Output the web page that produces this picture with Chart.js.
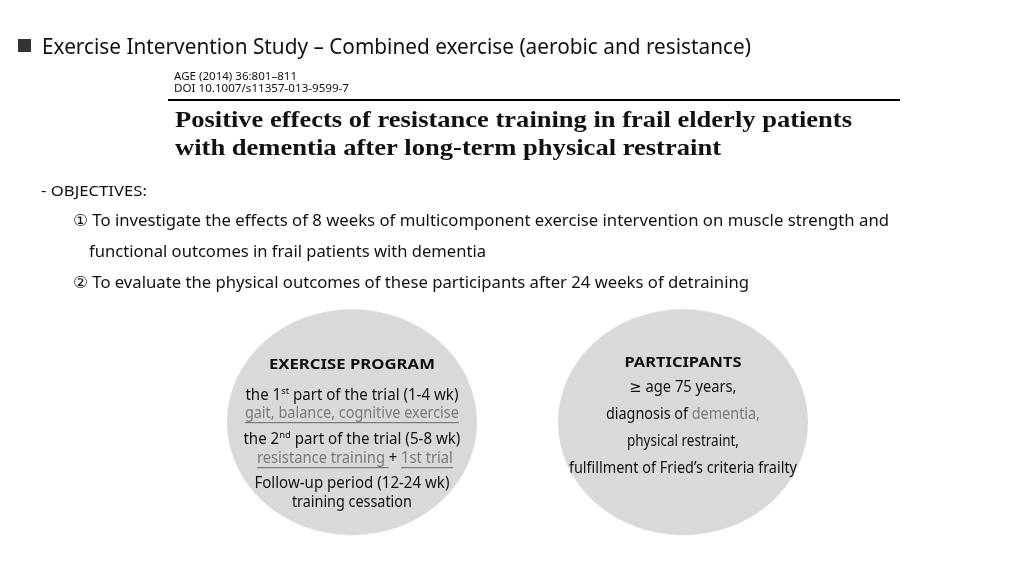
<!DOCTYPE html>
<html><head><meta charset="utf-8">
<script src="https://cdn.jsdelivr.net/npm/chart.js@4/dist/chart.umd.min.js"></script>
<style>html,body{margin:0;padding:0;background:#fff;}#wrap{width:1024px;height:576px;}</style>
</head><body><div id="wrap"><canvas id="c" width="1024" height="576"></canvas></div>
<script>
// ---- content ----
const slideTitle = 'Exercise Intervention Study – Combined exercise (aerobic and resistance)';
const citation = ['AGE (2014) 36:801–811', 'DOI 10.1007/s11357-013-9599-7'];
const paperTitle = ['Positive effects of resistance training in frail elderly patients', 'with dementia after long-term physical restraint'];
const objectivesHeader = '- OBJECTIVES:';
const objectives = [
  '① To investigate the effects of 8 weeks of multicomponent exercise intervention on muscle strength and',
  'functional outcomes in frail patients with dementia',
  '② To evaluate the physical outcomes of these participants after 24 weeks of detraining'
];
const circleLabels = ['EXERCISE PROGRAM', 'PARTICIPANTS'];
const circleX = [350, 685];
const circleY = [425, 425];
const programLines = [
  [['the 1', ''], ['st', 'sup'], [' part of the trial (1-4 wk)', '']],
  [['gait, balance, cognitive exercise', 'ul']],
  [['the 2', ''], ['nd', 'sup'], [' part of the trial (5-8 wk)', '']],
  [['resistance training ', 'ul'], ['+ ', ''], ['1st trial', 'ul']],
  [['Follow-up period (12-24 wk)', '']],
  [['training cessation', '']]
];
const participantLines = [
  [['≥ age 75 years,', '']],
  [['diagnosis of ', ''], ['dementia,', 'gray']],
  [['physical restraint,', '']],
  [['fulfillment of Fried’s criteria frailty', '']]
];

// ---- styles / layout ----
const SANS = "'Noto Sans', 'DejaVu Sans', sans-serif";
const SERIF = "'Liberation Serif', 'DejaVu Serif', serif";
const BLACK = '#111111';
const GRAY = '#7a7a7a';
const FILL = '#d9d9d9';
const ELL = { rx: 125, ry: 113 };
const layout = {
  title: { x: 42, base: 54, w: 709, size: 21 },
  cite: { x: 174, bases: [80, 92], ws: [123, 175], size: 11 },
  rule: { x1: 168, x2: 900, y: 100, lw: 2 },
  paper: { x: 175, bases: [127, 155], ws: [677, 546], size: 24 },
  objHead: { x: 41, base: 196, w: 106, size: 14.5 },
  obj: { xs: [73, 89, 73], bases: [226, 257, 288], ws: [816, 397, 676], size: 16.5 },
  program: { headBase: 369, headW: 166, bases: [400, 418, 444, 463, 488, 507], ws: [213, 214, 217, 196, 195, 120], size: 15.5 },
  part: { headBase: 367, headW: 117, bases: [392, 419, 446, 473], ws: [107, 154, 112, 228], size: 15.5 }
};

function ellipseImage() {
  const c = document.createElement('canvas');
  c.width = Math.round(ELL.rx * 2) + 2; c.height = Math.round(ELL.ry * 2) + 2;
  const g = c.getContext('2d');
  g.fillStyle = FILL;
  g.beginPath();
  g.ellipse(c.width / 2, c.height / 2, ELL.rx, ELL.ry, 0, 0, Math.PI * 2);
  g.fill();
  return c;
}

function drawSegs(ctx, segs, x, base, width, size, family, weight, align) {
  let total = 0; const out = [];
  for (const [t, k] of segs) {
    const fs = k === 'sup' ? size * 0.62 : size;
    ctx.font = `${weight} ${fs}px ${family}`;
    const w = ctx.measureText(t).width;
    out.push({ t, k, fs, w }); total += w;
  }
  const sx = width / total;
  const left = align === 'center' ? x - width / 2 : x;
  ctx.save();
  ctx.translate(left, base);
  ctx.scale(sx, 1);
  ctx.textBaseline = 'alphabetic';
  ctx.textAlign = 'left';
  let cx = 0;
  for (const s of out) {
    ctx.font = `${weight} ${s.fs}px ${family}`;
    ctx.fillStyle = (s.k === 'ul' || s.k === 'gray') ? GRAY : BLACK;
    const dy = s.k === 'sup' ? -size * 0.4 : 0;
    ctx.fillText(s.t, cx, dy);
    if (s.k === 'ul') ctx.fillRect(cx, 4, s.w, 1.2);
    cx += s.w;
  }
  ctx.restore();
}

const textPlugin = {
  id: 'slideText',
  afterDatasetsDraw(chart) {
    const ctx = chart.ctx;
    const L = layout;
    ctx.save();
    ctx.fillStyle = '#333333';
    ctx.fillRect(18, 39, 13, 13);
    ctx.restore();
    drawSegs(ctx, [[slideTitle, '']], L.title.x, L.title.base, L.title.w, L.title.size, SANS, 'normal', 'left');
    citation.forEach((t, i) => drawSegs(ctx, [[t, '']], L.cite.x, L.cite.bases[i], L.cite.ws[i], L.cite.size, SANS, 'normal', 'left'));
    ctx.save();
    ctx.strokeStyle = '#000'; ctx.lineWidth = L.rule.lw;
    ctx.beginPath(); ctx.moveTo(L.rule.x1, L.rule.y); ctx.lineTo(L.rule.x2, L.rule.y); ctx.stroke();
    ctx.restore();
    paperTitle.forEach((t, i) => drawSegs(ctx, [[t, '']], L.paper.x, L.paper.bases[i], L.paper.ws[i], L.paper.size, SERIF, 'bold', 'left'));
    drawSegs(ctx, [[objectivesHeader, '']], L.objHead.x, L.objHead.base, L.objHead.w, L.objHead.size, SANS, 'normal', 'left');
    objectives.forEach((t, i) => drawSegs(ctx, [[t, '']], L.obj.xs[i], L.obj.bases[i], L.obj.ws[i], L.obj.size, SANS, 'normal', 'left'));

    const pts = chart.getDatasetMeta(0).data;
    const cxA = pts[0].x, cxB = pts[1].x;
    drawSegs(ctx, [[circleLabels[0], '']], cxA, L.program.headBase, L.program.headW, 15, SANS, 'bold', 'center');
    programLines.forEach((segs, i) => drawSegs(ctx, segs, cxA + (i === 3 ? 3 : 0), L.program.bases[i], L.program.ws[i], L.program.size, SANS, 'normal', 'center'));
    drawSegs(ctx, [[circleLabels[1], '']], cxB, L.part.headBase, L.part.headW, 15, SANS, 'bold', 'center');
    participantLines.forEach((segs, i) => drawSegs(ctx, segs, cxB, L.part.bases[i], L.part.ws[i], L.part.size, SANS, 'normal', 'center'));
  }
};

const img = ellipseImage();
new Chart(document.getElementById('c'), {
  type: 'scatter',
  data: {
    labels: circleLabels,
    datasets: [{
      label: 'circles',
      data: circleX.map((x, i) => ({ x, y: circleY[i] })),
      pointStyle: img,
      pointRadius: 5,
      backgroundColor: FILL,
      borderColor: FILL
    }]
  },
  options: {
    responsive: false,
    animation: false,
    events: [],
    layout: { padding: 0 },
    plugins: { legend: { display: false }, tooltip: { enabled: false }, title: { display: false } },
    scales: {
      x: { type: 'linear', display: false, min: 0, max: 1024 },
      y: { type: 'linear', display: false, min: 0, max: 576, reverse: true }
    }
  },
  plugins: [textPlugin]
});
</script>
</body></html>
